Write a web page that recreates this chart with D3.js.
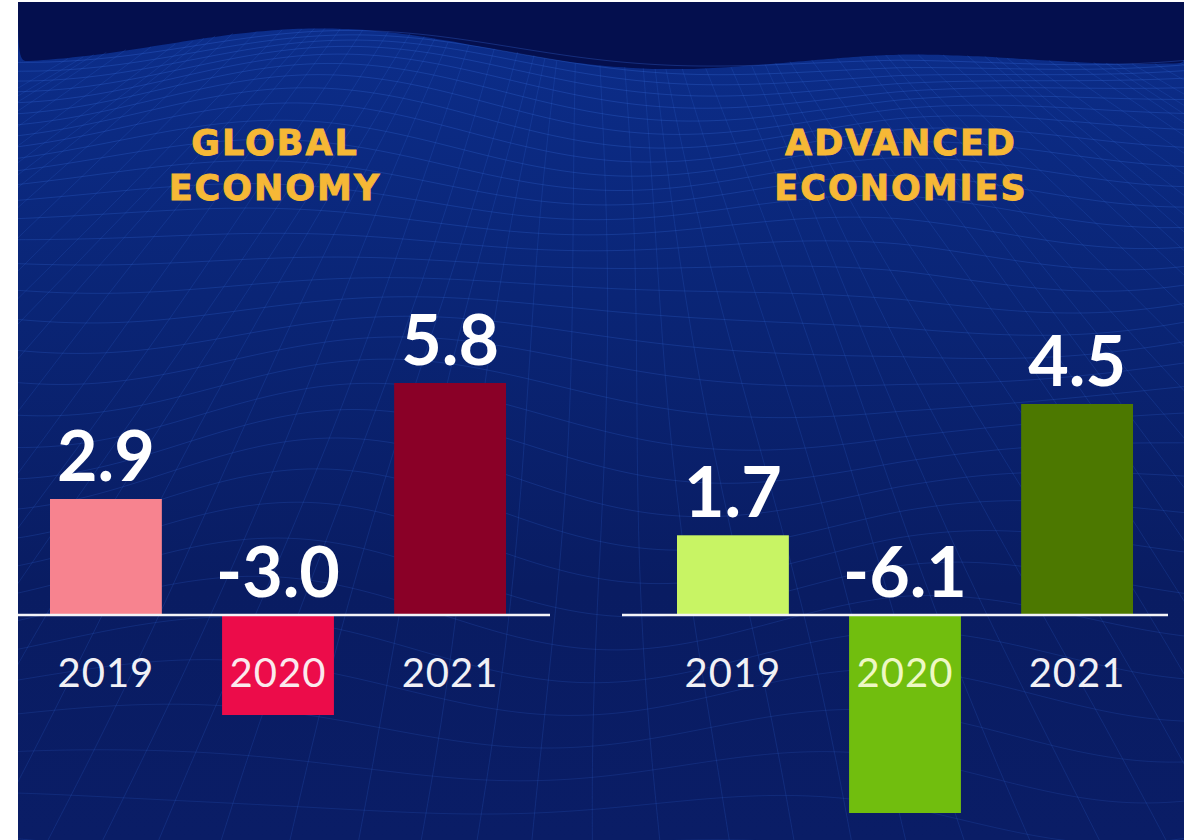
<!DOCTYPE html>
<html>
<head>
<meta charset="utf-8">
<script src="https://cdn.jsdelivr.net/npm/d3@7"></script>
<style>
  html, body { margin: 0; padding: 0; background: #ffffff; }
  svg { display: block; }
</style>
</head>
<body>
<svg id="chart" width="1195" height="840"></svg>
<script>
// data
const years = ["2019", "2020", "2021"];
const globalValues = [2.9, -3.0, 5.8];
const advancedValues = [1.7, -6.1, 4.5];
const globalColors = ["#f7838f", "#ec0c4a", "#8a0027"];
const advancedColors = ["#c8f464", "#71be0e", "#4c7800"];
const globalTitle = ["GLOBAL", "ECONOMY"];
const advancedTitle = ["ADVANCED", "ECONOMIES"];

const svg = d3.select("#chart");
const frame = { left: 18, top: 2, right: 1184, bottom: 840 };

// background
const defs = svg.append("defs");
const grad = defs.append("linearGradient")
    .attr("id", "bg").attr("x1", 0).attr("y1", 0).attr("x2", 0).attr("y2", 1);
grad.append("stop").attr("offset", "0%").attr("stop-color", "#0c2e8c");
grad.append("stop").attr("offset", "35%").attr("stop-color", "#0a2576");
grad.append("stop").attr("offset", "70%").attr("stop-color", "#091c62");
grad.append("stop").attr("offset", "100%").attr("stop-color", "#0a1d66");

defs.append("clipPath").attr("id", "frame")
    .append("rect")
    .attr("x", frame.left).attr("y", frame.top)
    .attr("width", frame.right - frame.left)
    .attr("height", frame.bottom - frame.top);

const bg = svg.append("g").attr("clip-path", "url(#frame)");
bg.append("rect")
    .attr("x", frame.left).attr("y", frame.top)
    .attr("width", frame.right - frame.left)
    .attr("height", frame.bottom - frame.top)
    .attr("fill", "url(#bg)");

// wire mesh decoration
const horizon = x => 52 - 14 * Math.sin((x - 20) / 170) + 10 * Math.sin(x / 90 + 1) + (x > 900 ? (x - 900) * 0.03 : 0);
const xs = d3.range(frame.left, frame.right + 10, 10);
const line = d3.line().curve(d3.curveBasis);

bg.append("path")
    .attr("d", line([[frame.left, 0], ...xs.map(x => [x, horizon(x)]), [frame.right, 0]]))
    .attr("fill", "#040f4e");

const mesh = bg.append("g")
    .attr("fill", "none")
    .attr("stroke", "#3468d6")
    .attr("stroke-width", 1);

d3.range(0, 34).forEach(i => {
    const off = i * i * 0.55 + i * 6;
    mesh.append("path")
        .attr("stroke-opacity", 0.34 - i * 0.005)
        .attr("d", line(xs.map(x => [x, horizon(x) + off + (6 + i * 0.6) * Math.sin(x / 120 + i * 0.35)])));
});
d3.range(-30, 70).forEach(j => {
    const x0 = 600 + j * 18;
    const x1 = 600 + j * 62;
    const pts = d3.range(0, 11).map(k => {
        const t = k / 10;
        const x = x0 + (x1 - x0) * t + 8 * Math.sin(t * 5 + j);
        return [x, horizon(x0) + (frame.bottom - horizon(x0)) * t];
    });
    mesh.append("path")
        .attr("stroke-opacity", 0.2)
        .attr("d", line(pts));
});

// panels
const panels = [
    { title: globalTitle, values: globalValues, colors: globalColors,
      xRange: [50, 506], yRange: [715, 615, 383], lineX: [18, 550], cx: 274,
      labelFill: ["#f1f1f6", "#fbe9ee", "#f1f1f6"] },
    { title: advancedTitle, values: advancedValues, colors: advancedColors,
      xRange: [677, 1133], yRange: [813, 615, 404], lineX: [622, 1168], cx: 900,
      labelFill: ["#f1f1f6", "#eef8c4", "#f1f1f6"] }
];

panels.forEach(p => {
    const g = svg.append("g");
    const x = d3.scaleBand().domain(years).range(p.xRange).paddingInner(0.35);
    const y = d3.scaleLinear()
        .domain([d3.min(p.values), 0, d3.max(p.values)])
        .range(p.yRange);

    g.selectAll(".title")
        .data(p.title)
        .enter().append("text")
        .attr("x", p.cx + 1)
        .attr("y", (d, i) => 155 + i * 45)
        .attr("text-anchor", "middle")
        .attr("font-family", "DejaVu Sans")
        .attr("font-weight", "bold")
        .attr("font-size", 35)
        .attr("letter-spacing", 2)
        .attr("fill", "#f6b836")
        .attr("stroke", "#f6b836")
        .attr("stroke-width", 0.9)
        .text(d => d);

    g.selectAll("rect")
        .data(p.values)
        .enter().append("rect")
        .attr("x", (d, i) => x(years[i]))
        .attr("y", d => y(Math.max(0, d)))
        .attr("width", x.bandwidth())
        .attr("height", d => Math.abs(y(d) - y(0)))
        .attr("fill", (d, i) => p.colors[i]);

    g.append("line")
        .attr("x1", p.lineX[0]).attr("x2", p.lineX[1])
        .attr("y1", y(0)).attr("y2", y(0))
        .attr("stroke", "#f4f4f8")
        .attr("stroke-width", 2.5);

    g.selectAll(".value")
        .data(p.values)
        .enter().append("text")
        .attr("x", (d, i) => x(years[i]) + x.bandwidth() / 2)
        .attr("y", d => y(Math.max(0, d)) - 18)
        .attr("text-anchor", "middle")
        .attr("font-family", "Lato")
        .attr("font-weight", "bold")
        .attr("font-size", 70)
        .attr("fill", "#ffffff")
        .text(d => d3.format(".1f")(d).replace("−", "-"));

    g.selectAll(".year")
        .data(years)
        .enter().append("text")
        .attr("x", d => x(d) + x.bandwidth() / 2)
        .attr("y", 687)
        .attr("text-anchor", "middle")
        .attr("font-family", "Lato")
        .attr("font-size", 40)
        .attr("letter-spacing", 1)
        .attr("fill", (d, i) => p.labelFill[i])
        .text(d => d);
});
</script>
</body>
</html>
